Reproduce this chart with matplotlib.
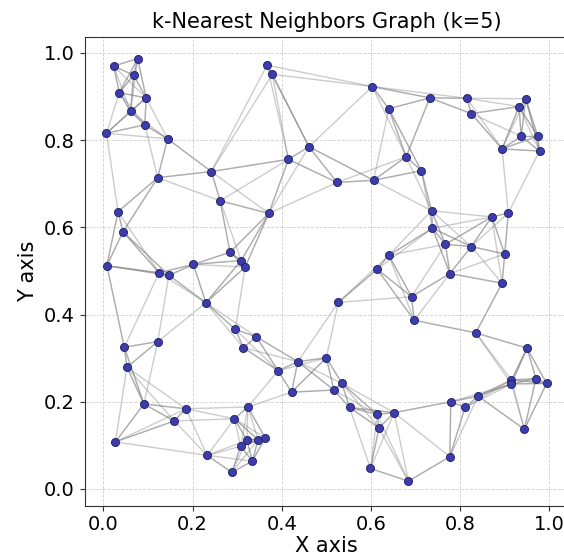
import numpy as np
import matplotlib
matplotlib.use("Agg")
import matplotlib.pyplot as plt

# point positions
x_pts = [0.023, 0.077, 0.068, 0.036, 0.096, 0.061, 0.093, 0.007, 0.144, 0.122,
         0.033, 0.044, 0.008, 0.125, 0.147, 0.202, 0.242, 0.262, 0.371, 0.284,
         0.309, 0.318, 0.367, 0.379, 0.415, 0.461,
         0.603, 0.640, 0.732, 0.815, 0.825, 0.947, 0.932, 0.937, 0.974, 0.978,
         0.894, 0.679, 0.713, 0.524, 0.606, 0.736, 0.738, 0.871, 0.908, 0.767,
         0.825, 0.900, 0.640, 0.614,
         0.777, 0.894, 0.691, 0.697, 0.527, 0.835, 0.950, 0.915, 0.915, 0.970,
         0.994, 0.840, 0.779, 0.811, 0.944, 0.500, 0.535, 0.517, 0.552, 0.614,
         0.652, 0.618, 0.777, 0.599, 0.684,
         0.230, 0.296, 0.343, 0.314, 0.047, 0.122, 0.053, 0.392, 0.436, 0.422,
         0.091, 0.185, 0.159, 0.324, 0.294, 0.027, 0.322, 0.308, 0.347, 0.363,
         0.233, 0.334, 0.288]
y_pts = [0.970, 0.987, 0.949, 0.909, 0.897, 0.866, 0.835, 0.816, 0.803, 0.714,
         0.636, 0.590, 0.512, 0.496, 0.490, 0.515, 0.728, 0.661, 0.632, 0.543,
         0.524, 0.509, 0.972, 0.951, 0.756, 0.785,
         0.923, 0.872, 0.897, 0.896, 0.861, 0.895, 0.877, 0.809, 0.809, 0.775,
         0.780, 0.762, 0.730, 0.703, 0.708, 0.638, 0.598, 0.624, 0.633, 0.561,
         0.556, 0.539, 0.536, 0.504,
         0.494, 0.472, 0.441, 0.387, 0.428, 0.358, 0.323, 0.250, 0.241, 0.253,
         0.242, 0.213, 0.200, 0.187, 0.137, 0.301, 0.242, 0.227, 0.187, 0.171,
         0.175, 0.140, 0.074, 0.047, 0.018,
         0.427, 0.366, 0.349, 0.324, 0.325, 0.338, 0.279, 0.271, 0.292, 0.222,
         0.195, 0.184, 0.156, 0.188, 0.161, 0.108, 0.112, 0.098, 0.113, 0.117,
         0.077, 0.064, 0.038]
k = 5

pts = np.column_stack([x_pts, y_pts])
d = np.sqrt(((pts[:, None, :] - pts[None, :, :]) ** 2).sum(axis=2))
np.fill_diagonal(d, np.inf)
nbrs = np.argsort(d, axis=1)[:, :k]

fig = plt.figure(figsize=(5.64, 5.58), dpi=100)
ax = fig.add_axes([0.150, 0.094, 0.858, 0.840])

# each point to its k nearest; mutual pairs get drawn twice (darker)
for i in range(len(pts)):
    for j in nbrs[i]:
        ax.plot([pts[i, 0], pts[j, 0]], [pts[i, 1], pts[j, 1]],
                color="gray", alpha=0.4, linewidth=1, zorder=1)

ax.scatter(pts[:, 0], pts[:, 1], s=34, color="#3c3caa",
           edgecolors="#1c1c66", linewidths=0.6, zorder=2)

ax.set_xlim(-0.042, 1.043)
ax.set_ylim(-0.038, 1.037)
ax.set_xticks([0.0, 0.2, 0.4, 0.6, 0.8, 1.0])
ax.set_yticks([0.0, 0.2, 0.4, 0.6, 0.8, 1.0])
ax.tick_params(labelsize=14, color="#333333")
for sp in ax.spines.values():
    sp.set_color("#333333")
ax.set_title("k-Nearest Neighbors Graph (k=5)", fontsize=15)
ax.set_xlabel("X axis", fontsize=15, labelpad=1)
ax.set_ylabel("Y axis", fontsize=15)
ax.grid(True, linestyle="--", linewidth=0.6, alpha=0.6)

fig.savefig("out.png", dpi=100)
